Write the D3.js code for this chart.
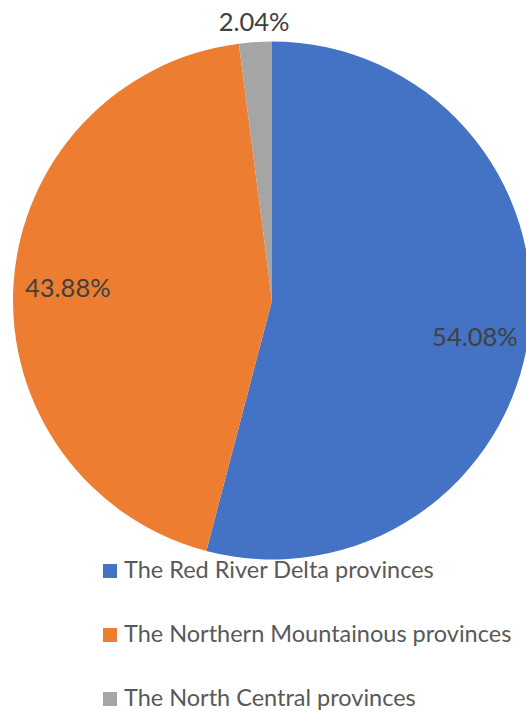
<!DOCTYPE html>
<html><head><meta charset="utf-8">
<script src="https://cdn.jsdelivr.net/npm/d3@7"></script>
<style>html,body{margin:0;padding:0;background:#fff;overflow:hidden}</style>
</head><body>
<svg id="chart" width="526" height="711"></svg>
<script>
const categories = ["The Red River Delta provinces", "The Northern Mountainous provinces", "The North Central provinces"];
const values = [54.08, 43.88, 2.04];
const labels = ["54.08%", "43.88%", "2.04%"];
const colors = ["#4472C4", "#ED7D31", "#A5A5A5"];

const svg = d3.select("#chart");
const cx = 272, cy = 300.5, R = 259;
const font = "Lato, 'Open Sans', sans-serif";
const pie = d3.pie().sort(null).value(d => d)(values);
const arc = d3.arc().innerRadius(0).outerRadius(R);
const g = svg.append("g").attr("transform", `translate(${cx},${cy})`);
g.selectAll("path").data(pie).join("path").attr("d", arc).attr("fill", (d,i) => colors[i]);

const labelR = [0.79*R, 0.79*R, R + 21];
const dys = [9, 0, 0];
g.selectAll("text.lbl").data(pie).join("text").attr("class","lbl")
  .attr("transform", (d,i) => { const c = d3.arc().innerRadius(labelR[i]).outerRadius(labelR[i]).centroid(d); return `translate(${c[0]},${c[1]+dys[i]})`; })
  .attr("text-anchor","middle").attr("dominant-baseline","central")
  .attr("font-family", font).attr("font-size", 25.5).attr("fill", "#404040")
  .text((d,i) => labels[i]);

const leg = svg.append("g").attr("transform", "translate(103,564)");
const rows = leg.selectAll("g").data(categories).join("g").attr("transform", (d,i) => `translate(0,${i*64})`);
rows.append("rect").attr("width",14).attr("height",14).attr("fill",(d,i)=>colors[i]);
rows.append("text").attr("x",21).attr("y",14).attr("font-family",font).attr("font-size",23.5).attr("fill","#595959").text(d=>d);
</script>
</body></html>
